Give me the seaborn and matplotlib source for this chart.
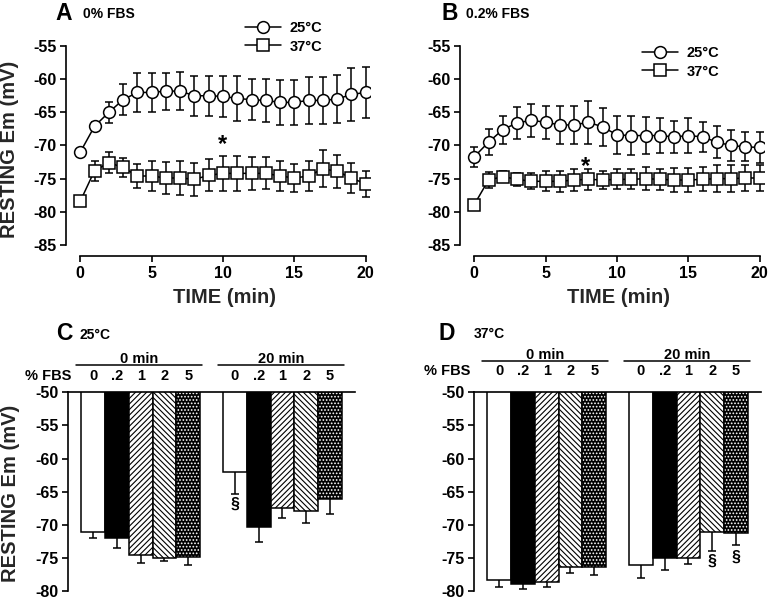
import matplotlib
matplotlib.use("Agg")
import matplotlib.pyplot as plt
import matplotlib.transforms as mtransforms
from matplotlib.patches import Rectangle
from matplotlib.lines import Line2D
import numpy as np
import pandas as pd
import seaborn as sns

# ---------------- data ----------------
times = list(range(21))

a25_mean = [-71.0, -67.1, -65.0, -63.1, -62.0, -62.0, -61.8, -61.8, -62.5, -62.5, -62.6,
            -62.9, -63.1, -63.2, -63.5, -63.5, -63.2, -63.2, -63.0, -62.3, -62.0]
a25_se = [0.4, 0.7, 1.6, 2.3, 2.9, 2.9, 2.8, 2.9, 3.0, 3.0, 3.1,
          3.4, 3.1, 3.2, 3.4, 3.4, 3.6, 3.6, 3.6, 4.0, 3.9]
a37_mean = [-78.4, -73.8, -72.6, -73.3, -74.6, -74.6, -74.9, -74.9, -75.1, -74.5, -74.2,
            -74.2, -74.2, -74.2, -74.6, -74.9, -74.6, -73.5, -73.9, -74.9, -75.8]
a37_se = [0.7, 1.5, 1.6, 1.4, 1.8, 2.2, 2.4, 2.5, 2.5, 2.4, 2.6,
          2.6, 2.5, 2.4, 2.3, 2.1, 2.2, 2.8, 2.5, 2.2, 1.9]

b25_mean = [-71.7, -69.5, -67.6, -66.6, -66.2, -66.5, -66.9, -66.9, -66.5, -67.2, -68.4,
            -68.5, -68.5, -68.5, -68.7, -68.5, -68.7, -69.5, -70.0, -70.2, -70.3]
b25_se = [1.5, 2.0, 2.1, 2.4, 2.5, 2.5, 2.8, 2.9, 3.2, 2.9, 2.9,
          2.9, 2.8, 2.6, 2.4, 2.6, 2.3, 2.4, 2.3, 2.2, 2.3]
b37_mean = [-78.9, -75.2, -74.7, -75.1, -75.4, -75.4, -75.4, -75.2, -75.1, -75.2, -75.1,
            -75.1, -75.0, -75.1, -75.2, -75.2, -75.1, -75.0, -75.0, -74.9, -74.9]
b37_se = [0.4, 1.2, 0.8, 1.0, 1.2, 1.5, 1.6, 1.6, 1.6, 1.3, 1.5,
          1.5, 1.7, 1.6, 1.8, 1.8, 1.8, 2.0, 2.0, 2.0, 2.0]

temps = ["25°C", "37°C"]
time_groups = ["0 min", "20 min"]
fbs_levels = ["0", ".2", "1", "2", "5"]

c0_mean = [-71.0, -71.9, -74.5, -75.0, -74.9]
c0_se = [0.9, 1.5, 1.2, 0.5, 1.1]
c20_mean = [-62.0, -70.35, -67.45, -67.85, -66.15]
c20_se = [3.3, 2.25, 1.5, 1.9, 2.2]

d0_mean = [-78.35, -78.85, -78.6, -76.3, -76.3]
d0_se = [1.0, 0.85, 0.75, 0.95, 1.2]
d20_mean = [-76.0, -75.05, -75.05, -71.1, -71.2]
d20_se = [2.0, 1.8, 0.9, 2.85, 1.75]

# ---------------- style ----------------
sns.set_theme(style="ticks")
plt.rcParams["font.family"] = ["Liberation Sans", "DejaVu Sans"]
plt.rcParams["font.weight"] = "bold"
plt.rcParams["axes.labelweight"] = "bold"
plt.rcParams["axes.edgecolor"] = "black"
plt.rcParams["axes.linewidth"] = 1.2
plt.rcParams["axes.unicode_minus"] = False
plt.rcParams["xtick.color"] = "black"
plt.rcParams["ytick.color"] = "black"
plt.rcParams["xtick.major.size"] = 4
plt.rcParams["ytick.major.size"] = 4
plt.rcParams["xtick.major.width"] = 1.2
plt.rcParams["ytick.major.width"] = 1.2
plt.rcParams["hatch.linewidth"] = 0.8
plt.rcParams["text.color"] = "black"

W, H = 768, 600
fig = plt.figure(figsize=(W / 100, H / 100), dpi=100)
fig.patch.set_facecolor("white")


def px_axes(l, t, r, b):
    return fig.add_axes([l / W, 1 - b / H, (r - l) / W, (b - t) / H])


def fx(x):
    return x / W


def fy(y):
    return 1 - y / H


TICK_FS = 11.5
LABEL_FS = 14.5


def line_panel(ax, m25, s25, m37, s37, star_t, star_y, leg_x, leg_y, show_ylabel):
    df = pd.DataFrame({
        "time": times * 2,
        "Em": list(m25) + list(m37),
        "temp": [temps[0]] * len(times) + [temps[1]] * len(times),
    })
    for m, s in ((m25, s25), (m37, s37)):
        ax.errorbar(times, m, yerr=s, fmt="none", ecolor="black", elinewidth=1.1,
                    capsize=2.6, capthick=1.1, zorder=2)
    sns.lineplot(data=df, x="time", y="Em", style="temp",
                 markers={temps[0]: "o", temps[1]: "s"}, dashes=False,
                 color="black", linewidth=1.1, markersize=8.5,
                 markerfacecolor="white", markeredgecolor="black",
                 markeredgewidth=1.1, errorbar=None, legend=False, ax=ax, zorder=3)
    ax.set_xlim(-1.0, 20.3)
    ax.set_ylim(-86.66, -55)
    ax.set_xticks([0, 5, 10, 15, 20])
    ax.set_yticks(list(range(-85, -54, 5)))
    ax.tick_params(labelsize=TICK_FS, direction="out", pad=3)
    for lab in ax.get_xticklabels() + ax.get_yticklabels():
        lab.set_fontweight("bold")
    sns.despine(ax=ax)
    ax.spines["left"].set_bounds(-85, -55)
    ax.spines["bottom"].set_bounds(0, 20)
    ax.set_xlabel("TIME (min)", fontsize=LABEL_FS, fontweight="bold")
    ax.xaxis.set_label_coords(0.52, -0.15)
    if show_ylabel:
        ax.set_ylabel("RESTING Em (mV)", fontsize=LABEL_FS, fontweight="bold")
        ax.yaxis.set_label_coords(-0.153, 0.51)
    else:
        ax.set_ylabel("")
    ax.text(star_t, star_y, "*", ha="center", va="center", fontsize=17,
            fontweight="bold")
    handles = [ln for ln in ax.lines if ln.get_marker() in ("o", "s")]
    handles = sorted(handles, key=lambda ln: 0 if ln.get_marker() == "o" else 1)
    ax.legend(handles=handles, labels=temps, loc="center left",
              bbox_to_anchor=(fx(leg_x), fy(leg_y)), bbox_transform=fig.transFigure,
              frameon=False, fontsize=10.5, handlelength=2.45, handletextpad=0.6,
              labelspacing=0.28, borderpad=0, borderaxespad=0)
    ax.set_facecolor("white")


def bar_panel(ax, m0, s0, m20, s20, sections, show_ylabel, hdr_y):
    df = pd.DataFrame({
        "time": [time_groups[0]] * 5 + [time_groups[1]] * 5,
        "fbs": fbs_levels * 2,
        "Em": list(m0) + list(m20),
    })
    face = ["white", "black", "white", "white", "black"]
    sns.barplot(data=df, x="time", y="Em", hue="fbs", hue_order=fbs_levels,
                order=time_groups, palette=dict(zip(fbs_levels, face)), saturation=1,
                width=0.838, edgecolor="black", linewidth=1.1, errorbar=None,
                legend=False, ax=ax, zorder=2)
    patches = sorted([p for p in ax.patches if isinstance(p, Rectangle)],
                     key=lambda p: p.get_x())
    hatches = [None, None, "//////", "\\\\\\\\\\\\", "....."]
    centers = []
    for i, p in enumerate(patches):
        k = i % 5
        centers.append(p.get_x() + p.get_width() / 2)
        if k in (2, 3):
            p.set_hatch(hatches[k])
        if k == 4:
            p.set_facecolor("black")
            p.set_edgecolor("white")
            p.set_linewidth(0)
            p.set_hatch(hatches[k])
            outline = Rectangle((p.get_x(), p.get_y()), p.get_width(), p.get_height(),
                                fill=False, edgecolor="black", linewidth=1.1, zorder=2.5)
            ax.add_patch(outline)
    means = list(m0) + list(m20)
    ses = list(s0) + list(s20)
    ax.errorbar(centers, means, yerr=ses, fmt="none", ecolor="black",
                elinewidth=1.1, capsize=2.6, capthick=1.1, zorder=1)
    ax.set_xlim(-0.513, 1.512)
    ax.set_ylim(-80.5, -50)
    ax.set_yticks(list(range(-80, -49, 5)))
    ax.set_xticks([])
    ax.set_xlabel("")
    ax.tick_params(labelsize=TICK_FS, direction="out", pad=3)
    for lab in ax.get_yticklabels():
        lab.set_fontweight("bold")
    for s in ("right", "bottom"):
        ax.spines[s].set_visible(False)
    ax.spines["top"].set_visible(True)
    ax.spines["left"].set_bounds(-80, -50)
    if show_ylabel:
        ax.set_ylabel("RESTING Em (mV)", fontsize=LABEL_FS, fontweight="bold")
        ax.yaxis.set_label_coords(-0.168, 0.50)
    else:
        ax.set_ylabel("")
    # header labels
    tr = mtransforms.blended_transform_factory(ax.transData, fig.transFigure)
    lab_y, line_y, grp_y = hdr_y
    for i, c in enumerate(centers):
        ax.text(c, fy(lab_y), fbs_levels[i % 5], transform=tr, ha="center",
                va="center", fontsize=10.5, fontweight="bold", clip_on=False)
    for g in range(2):
        ps = patches[g * 5:(g + 1) * 5]
        x0 = ps[0].get_x() - 0.035
        x1 = ps[-1].get_x() + ps[-1].get_width() + 0.015
        ax.add_line(Line2D([x0, x1], [fy(line_y), fy(line_y)], transform=tr,
                           color="black", linewidth=1.1, clip_on=False))
        ax.text((x0 + x1) / 2, fy(grp_y), time_groups[g], transform=tr, ha="center",
                va="baseline", fontsize=10.5, fontweight="bold", clip_on=False)
    for idx, yv in sections:
        ax.text(centers[idx], yv, "§", ha="center", va="center", fontsize=11.5,
                fontweight="bold")
    ax.set_facecolor("none")


axA = px_axes(66, 46, 370, 256)
line_panel(axA, a25_mean, a25_se, a37_mean, a37_se, 10, -69.9, 245, 37.5, True)
axB = px_axes(460, 46, 764, 256)
line_panel(axB, b25_mean, b25_se, b37_mean, b37_se, 7.8, -73.1, 642, 62.5, False)

axC = px_axes(68, 392.3, 355, 594.6)
bar_panel(axC, c0_mean, c0_se, c20_mean, c20_se, [(5, -66.9)], True, (375.5, 365, 363))
axD = px_axes(474, 392.3, 761, 594.6)
bar_panel(axD, d0_mean, d0_se, d20_mean, d20_se, [(8, -75.45), (9, -74.8)], False,
          (371, 361, 359))

# panel letters and titles
for letter, lx, sub, sx, yy in (("A", 64, "0% FBS", 83, 13), ("B", 450, "0.2% FBS", 466, 13),
                                ("C", 64, "25°C", 80, 334), ("D", 447, "37°C", 474, 333)):
    fig.text(fx(lx), fy(yy), letter, ha="center", va="center", fontsize=16.5,
             fontweight="bold")
    fig.text(fx(sx), fy(yy + 1), sub, ha="left", va="center", fontsize=10,
             fontweight="bold")

fig.text(fx(48), fy(375.5), "% FBS", ha="center", va="center", fontsize=10.5,
         fontweight="bold")
fig.text(fx(447), fy(371), "% FBS", ha="center", va="center", fontsize=10.5,
         fontweight="bold")

fig.savefig("out.png", dpi=100, facecolor="white")
